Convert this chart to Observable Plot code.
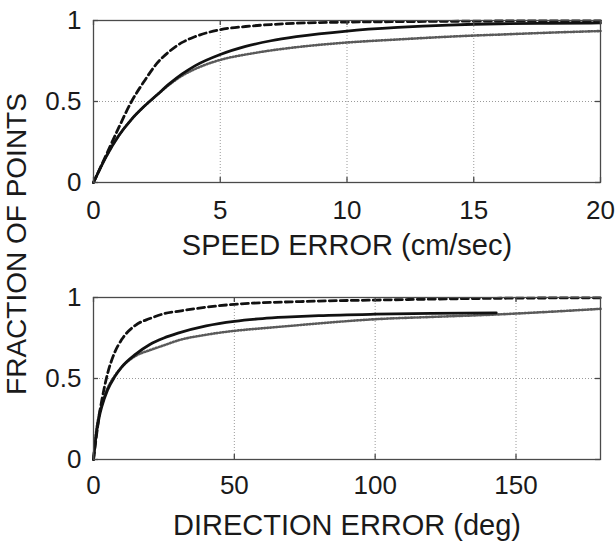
<!DOCTYPE html>
<html>
<head>
<meta charset="utf-8">
<script src="https://cdn.jsdelivr.net/npm/d3@7"></script>
<script src="https://cdn.jsdelivr.net/npm/@observablehq/plot@0.6"></script>
<style>
  body { margin: 0; background: #fff; }
  #wrap { position: relative; width: 616px; height: 542px; overflow: hidden; background: #fff;
          font-family: "Liberation Sans", Arial, Helvetica, sans-serif; color: #1a1a1a; }
  #top { position: absolute; left: 0; top: 0; }
  #bot { position: absolute; left: 0; top: 277px; }
  #ylab { position: absolute; left: 17px; top: 244px; transform: translate(-50%, -50%) rotate(-90deg);
          white-space: nowrap; font-size: 28px; line-height: 1; }
  svg { overflow: visible; }
</style>
</head>
<body>
<div id="wrap">
  <div id="top"></div>
  <div id="bot"></div>
  <div id="ylab">FRACTION OF POINTS</div>
</div>
<script>
// ---------- data ----------
const yLabel = "FRACTION OF POINTS";
const yTicks = [0, 0.5, 1];

// Top panel: speed error
const speedLabel = "SPEED ERROR (cm/sec)";
const speedTicks = [0, 5, 10, 15, 20];
const speedX      = [0, 0.5, 1, 1.5, 2, 2.5, 3, 3.5, 4, 5, 6, 7, 8, 10, 12, 14, 15, 16, 18, 20];
const speedDashed = [0, 0.17, 0.34, 0.50, 0.625, 0.735, 0.81, 0.865, 0.90, 0.943, 0.963, 0.975, 0.983, 0.99, 0.993, 0.995, 0.996, 0.997, 0.998, 0.998];
const speedSolid  = [0, 0.16, 0.29, 0.39, 0.47, 0.54, 0.61, 0.67, 0.72, 0.79, 0.84, 0.875, 0.90, 0.935, 0.957, 0.972, 0.977, 0.980, 0.983, 0.985];
const speedDotted = [0, 0.16, 0.29, 0.39, 0.47, 0.54, 0.605, 0.66, 0.70, 0.757, 0.79, 0.815, 0.835, 0.864, 0.883, 0.90, 0.907, 0.913, 0.925, 0.935];

// Bottom panel: direction error
const dirLabel = "DIRECTION ERROR (deg)";
const dirTicks = [0, 50, 100, 150];
const dirX      = [0, 1, 2, 3, 5, 7.5, 10, 15, 20, 25, 30, 40, 50, 60, 70, 80, 100, 120, 143, 160, 180];
const dirDashed = [0, 0.14, 0.27, 0.37, 0.53, 0.66, 0.74, 0.83, 0.87, 0.90, 0.915, 0.94, 0.958, 0.968, 0.973, 0.978, 0.984, 0.99, 0.995, 0.997, 0.998];
const dirSolid  = [0, 0.16, 0.26, 0.33, 0.43, 0.51, 0.57, 0.65, 0.71, 0.75, 0.78, 0.825, 0.853, 0.87, 0.88, 0.888, 0.897, 0.902, 0.905, null, null];
const dirDotted = [0, 0.18, 0.28, 0.345, 0.44, 0.515, 0.57, 0.64, 0.675, 0.705, 0.735, 0.77, 0.794, 0.81, 0.825, 0.84, 0.866, 0.88, 0.895, 0.91, 0.93];

// ---------- styles ----------
const FONT = '"Liberation Sans", Arial, Helvetica, sans-serif';
const seriesStyle = {
  dashed: {stroke: "#111", strokeWidth: 2.8, strokeDasharray: "7,4"},
  solid:  {stroke: "#111", strokeWidth: 2.8},
  dotted: {stroke: "#5a5a5a", strokeWidth: 2.6, strokeDasharray: "1,2"}
};

function toRows(xs, ys) {
  return xs.map((x, i) => ({x, y: ys[i]})).filter(d => d.y != null);
}

function panel({xs, dashed, solid, dotted, ticks, domain, label, height, marginBottom, tickPad, labelDy}) {
  const W = 616, ML = 93, MR = 16, MT = 20;
  const innerH = height - MT - marginBottom;
  const innerW = W - ML - MR;
  const tickLen = 5;
  const frameColor = "#4a4a4a";
  const gridStyle = {stroke: "#9a9a9a", strokeOpacity: 1, strokeWidth: 1, strokeDasharray: "1,2"};
  return Plot.plot({
    width: W, height,
    marginLeft: ML, marginRight: MR, marginTop: MT, marginBottom,
    style: {fontFamily: FONT, fontSize: "26px", color: "#1a1a1a", background: "#fff"},
    x: {domain, nice: false},
    y: {domain: [0, 1], nice: false},
    marks: [
      Plot.gridX(ticks, gridStyle),
      Plot.gridY(yTicks, gridStyle),
      Plot.line(toRows(xs, dotted), {x: "x", y: "y", curve: "monotone-x", ...seriesStyle.dotted}),
      Plot.line(toRows(xs, solid), {x: "x", y: "y", curve: "monotone-x", ...seriesStyle.solid}),
      Plot.line(toRows(xs, dashed), {x: "x", y: "y", curve: "monotone-x", ...seriesStyle.dashed}),
      Plot.frame({stroke: frameColor, strokeWidth: 1.3}),
      Plot.tickX(ticks, {x: d => d, insetTop: innerH - tickLen, stroke: frameColor, strokeWidth: 1.3}),
      Plot.tickX(ticks, {x: d => d, insetBottom: innerH - tickLen, stroke: frameColor, strokeWidth: 1.3}),
      Plot.tickY(yTicks, {y: d => d, insetRight: innerW - tickLen, stroke: frameColor, strokeWidth: 1.3}),
      Plot.tickY(yTicks, {y: d => d, insetLeft: innerW - tickLen, stroke: frameColor, strokeWidth: 1.3}),
      Plot.axisX(ticks, {tickSize: 0, tickPadding: tickPad, label: null, fontSize: 26, fill: "#1a1a1a", tickFormat: d => String(d)}),
      Plot.axisY(yTicks, {tickSize: 0, tickPadding: 12, label: null, fontSize: 26, fill: "#1a1a1a", tickFormat: d => String(d)}),
      Plot.text([label], {frameAnchor: "bottom", dy: labelDy, lineAnchor: "top", fontSize: 29, fill: "#1a1a1a", text: d => d})
    ]
  });
}

document.getElementById("top").append(panel({
  xs: speedX, dashed: speedDashed, solid: speedSolid, dotted: speedDotted,
  ticks: speedTicks, domain: [0, 20], label: speedLabel,
  height: 270, marginBottom: 88, tickPad: 18, labelDy: 52
}));
document.getElementById("bot").append(panel({
  xs: dirX, dashed: dirDashed, solid: dirSolid, dotted: dirDotted,
  ticks: dirTicks, domain: [0, 180], label: dirLabel,
  height: 265, marginBottom: 83, tickPad: 16, labelDy: 55
}));
document.getElementById("ylab").textContent = yLabel;
</script>
</body>
</html>
